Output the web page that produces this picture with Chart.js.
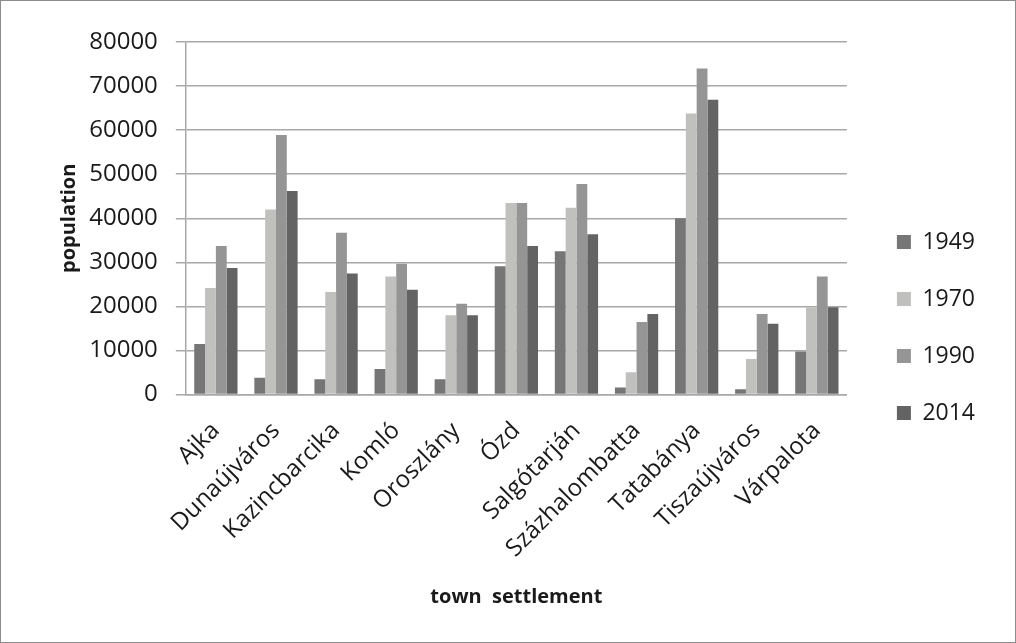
<!DOCTYPE html>
<html>
<head>
<meta charset="utf-8">
<script src="https://cdn.jsdelivr.net/npm/chart.js@4.4.1/dist/chart.umd.min.js"></script>
<style>
  html, body { margin: 0; padding: 0; background: #fff; }
  #wrap { width: 1016px; height: 643px; box-sizing: border-box; border: 1px solid #8c8c8c; position: relative; }
  #popChart { display: block; }
</style>
</head>
<body>
<div id="wrap"><canvas id="popChart" width="1014" height="641"></canvas></div>
<script>
// town populations by year
const towns = ['Ajka', 'Dunaújváros', 'Kazincbarcika', 'Komló', 'Oroszlány', 'Ózd',
               'Salgótarján', 'Százhalombatta', 'Tatabánya', 'Tiszaújváros', 'Várpalota'];
const years = ['1949', '1970', '1990', '2014'];
const pop1949 = [11500, 3800, 3500, 5800, 3500, 29100, 32500, 1600, 40000, 1200, 9800];
const pop1970 = [24200, 42000, 23300, 26800, 18000, 43500, 42400, 5100, 63800, 8100, 19800];
const pop1990 = [33700, 58900, 36700, 29700, 20600, 43500, 47800, 16500, 74000, 18300, 26800];
const pop2014 = [28700, 46200, 27500, 23800, 18000, 33700, 36400, 18300, 66900, 16100, 19800];
const yTicks = [0, 10000, 20000, 30000, 40000, 50000, 60000, 70000, 80000];

const barColors = ['#767676', '#c0c0bf', '#959595', '#636363'];
const seriesData = [pop1949, pop1970, pop1990, pop2014];

const font = "'Open Sans', sans-serif";
const ctx = document.getElementById('popChart').getContext('2d');

new Chart(ctx, {
    type: 'bar',
    data: {
        labels: towns,
        datasets: years.map((y, i) => ({
            label: y,
            data: seriesData[i],
            backgroundColor: barColors[i],
            borderWidth: 0,
            barPercentage: 1.0,
            categoryPercentage: 0.72
        }))
    },
    options: {
        responsive: false,
        animation: false,
        layout: { padding: { top: 41, bottom: 29, left: 25, right: 30 } },
        plugins: {
            legend: {
                position: 'right',
                labels: {
                    color: '#1a1a1a',
                    boxWidth: 14,
                    boxHeight: 14,
                    padding: 34,
                    font: { size: 23, family: font }
                }
            },
            tooltip: { enabled: false }
        },
        scales: {
            x: {
                grid: { display: false, drawTicks: false },
                border: { display: true, color: '#a8a8a8', width: 1.5 },
                ticks: {
                    color: '#1a1a1a',
                    minRotation: 45,
                    maxRotation: 45,
                    padding: 22,
                    font: { size: 24, family: font }
                },
                title: {
                    display: true,
                    text: 'town  settlement',
                    color: '#1a1a1a',
                    padding: { top: 0, bottom: 4 },
                    font: { size: 20, weight: 'bold', family: font }
                }
            },
            y: {
                min: 0,
                max: 80000,
                afterBuildTicks: (scale) => { scale.ticks = yTicks.map(v => ({ value: v })); },
                grid: { color: '#a8a8a8', lineWidth: 1.5, tickLength: 10 },
                border: { display: true, color: '#a8a8a8', width: 1.5 },
                ticks: {
                    color: '#1a1a1a',
                    padding: 18,
                    font: { size: 24, family: font },
                    callback: (value) => String(value)
                },
                title: {
                    display: true,
                    text: 'population',
                    color: '#1a1a1a',
                    padding: { top: 31, bottom: 7 },
                    font: { size: 20, weight: 'bold', family: font }
                }
            },
            gap: {
                position: 'right',
                display: true,
                grid: { display: false },
                border: { display: false },
                ticks: { display: false },
                afterFit: (scale) => { scale.width = 16; }
            }
        }
    }
});
</script>
</body>
</html>
